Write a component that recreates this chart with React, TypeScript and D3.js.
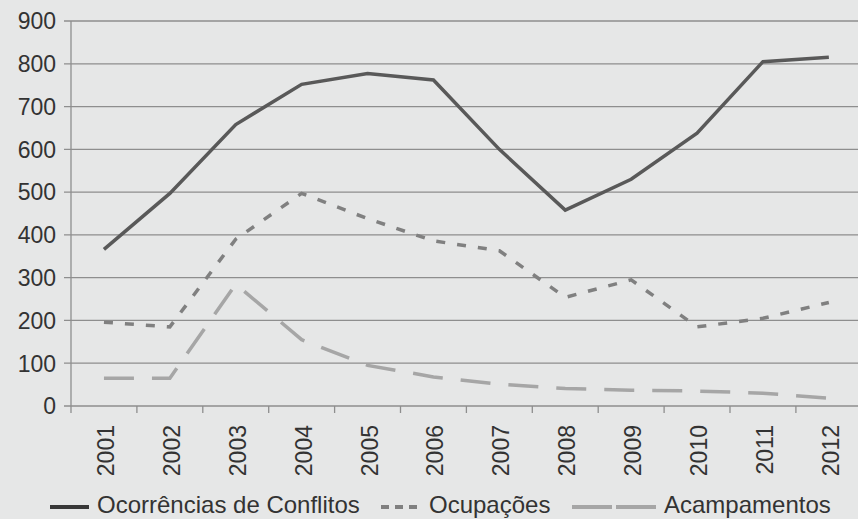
import React, { useRef, useEffect } from 'react';
import * as d3 from 'd3';

const years = ['2001', '2002', '2003', '2004', '2005', '2006', '2007', '2008', '2009', '2010', '2011', '2012'];
const conflitos = [366, 497, 658, 752, 777, 762, 600, 458, 530, 638, 805, 815];
const ocupacoes = [196, 185, 390, 497, 438, 386, 363, 254, 295, 185, 205, 242];
const acampamentos = [65, 65, 285, 155, 95, 68, 51, 41, 37, 35, 30, 18];
const yTicks = [0, 100, 200, 300, 400, 500, 600, 700, 800, 900];

const seriesList = [
  { name: 'Ocorrências de Conflitos', values: conflitos, color: '#595959', dash: '', legendColor: '#383838', legendDash: '', legendX: 50, legendLen: 39 },
  { name: 'Ocupações', values: ocupacoes, color: '#808080', dash: '9,12', legendColor: '#808080', legendDash: '8,6', legendX: 381, legendLen: 40 },
  { name: 'Acampamentos', values: acampamentos, color: '#a6a6a6', dash: '30,18', legendColor: '#a6a6a6', legendDash: '40,4', legendX: 572, legendLen: 84 },
];

const W = 858;
const H = 519;
const font = 'Liberation Sans, Arial, sans-serif';

export default function App(): React.ReactElement {
  const svgRef = useRef<SVGSVGElement>(null);

  useEffect(() => {
    if (!svgRef.current) return;
    const svg = d3.select(svgRef.current);
    svg.selectAll('*').remove();

    const margin = { left: 71, top: 21 };
    const bandW = 65.9;

    const x = d3.scaleBand<string>()
      .domain(years)
      .range([margin.left, margin.left + bandW * years.length]);
    const y = d3.scaleLinear().domain([0, 900]).range([406, margin.top]);

    svg.append('rect').attr('width', W).attr('height', H).attr('fill', '#e6e7e7');

    // grid lines + y ticks
    const grid = svg.append('g');
    yTicks.forEach((t) => {
      grid.append('line')
        .attr('x1', margin.left - 7)
        .attr('x2', W)
        .attr('y1', y(t))
        .attr('y2', y(t))
        .attr('stroke', '#8e8e8e')
        .attr('stroke-width', 1.3);
      grid.append('text')
        .attr('x', 56)
        .attr('y', y(t))
        .attr('dy', '0.36em')
        .attr('text-anchor', 'end')
        .attr('font-family', font)
        .attr('font-size', '23px')
        .attr('fill', '#333')
        .text(t);
    });

    // y axis
    svg.append('line')
      .attr('x1', margin.left).attr('x2', margin.left)
      .attr('y1', y(900)).attr('y2', y(0) + 7)
      .attr('stroke', '#8e8e8e').attr('stroke-width', 1.3);

    // x ticks at band boundaries, labels rotated
    years.forEach((yr) => {
      const bx = (x(yr) as number) + bandW;
      svg.append('line')
        .attr('x1', bx).attr('x2', bx)
        .attr('y1', y(0)).attr('y2', y(0) + 7)
        .attr('stroke', '#8e8e8e').attr('stroke-width', 1.3);
      const cx = (x(yr) as number) + bandW / 2;
      svg.append('text')
        .attr('transform', `translate(${cx + 10},425) rotate(-90)`)
        .attr('text-anchor', 'end')
        .attr('font-family', font)
        .attr('font-size', '23px')
        .attr('fill', '#333')
        .text(yr);
    });

    const line = d3.line<number>()
      .x((_, i) => (x(years[i]) as number) + bandW / 2)
      .y((d) => y(d));

    // light series first so the dark one is on top
    [...seriesList].reverse().forEach((s) => {
      svg.append('path')
        .attr('d', line(s.values) as string)
        .attr('fill', 'none')
        .attr('stroke', s.color)
        .attr('stroke-width', 3.5)
        .attr('stroke-dasharray', s.dash || null);
    });

    // legend
    const ly = 507;
    seriesList.forEach((s) => {
      svg.append('line')
        .attr('x1', s.legendX).attr('x2', s.legendX + s.legendLen)
        .attr('y1', ly).attr('y2', ly)
        .attr('stroke', s.legendColor)
        .attr('stroke-width', 4)
        .attr('stroke-dasharray', s.legendDash || null);
      svg.append('text')
        .attr('x', s.legendX + s.legendLen + 8)
        .attr('y', 513)
        .attr('font-family', font)
        .attr('font-size', '24px')
        .attr('fill', '#333')
        .text(s.name);
    });
  }, []);

  return (
    <svg ref={svgRef} width={W} height={H} style={{ position: 'absolute', left: 0, top: 0, display: 'block' }} />
  );
}
